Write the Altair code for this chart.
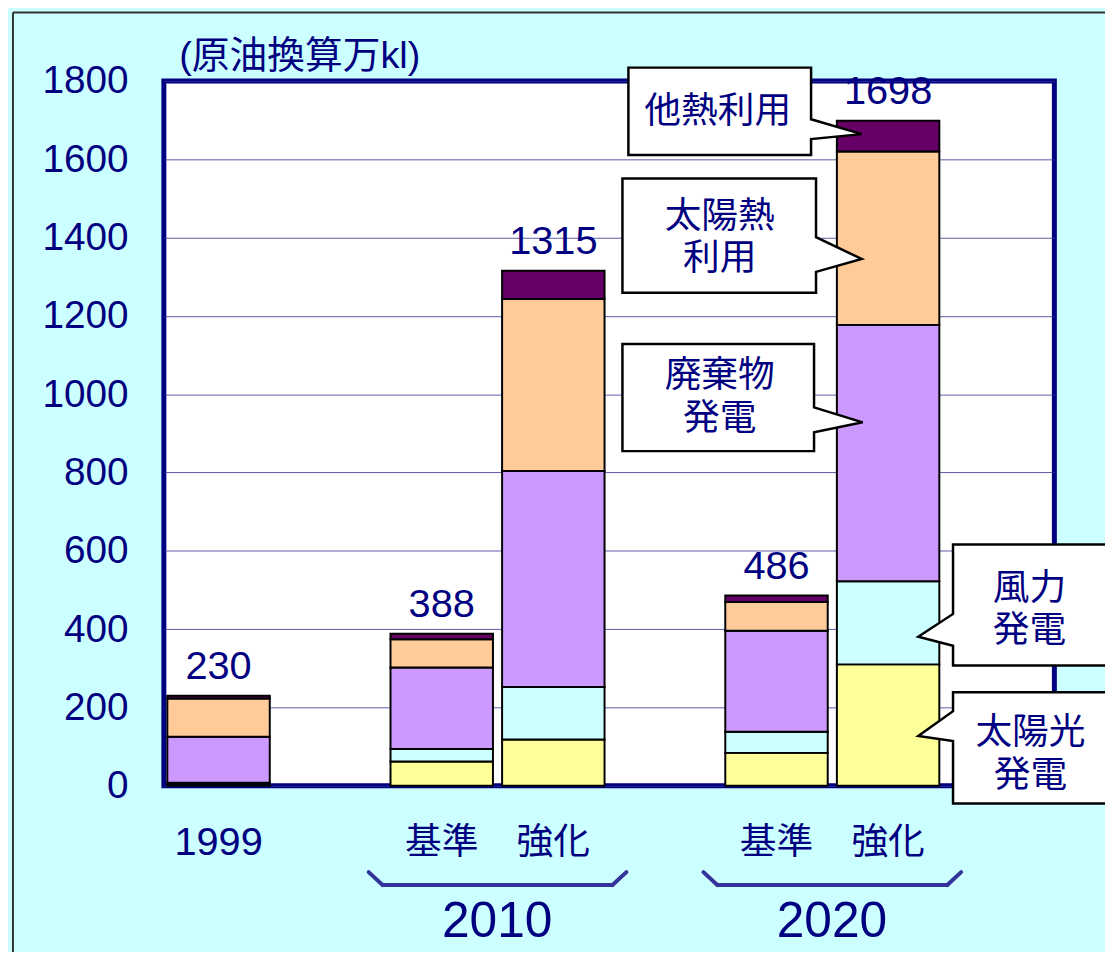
import altair as alt
import pandas as pd

# ---------------- data ----------------
categories = ["1999", "2010基準", "2010強化", "2020基準", "2020強化"]
slots = ["1999", "_gap1", "2010基準", "2010強化", "_gap2", "2020基準", "2020強化", "_gap3"]
series = ["太陽光発電", "風力発電", "廃棄物発電", "太陽熱利用", "他熱利用"]
solar_pv = [5, 62, 118, 84, 310]
wind = [3, 32, 134, 54, 212]
waste = [117, 208, 552, 258, 655]
solar_heat = [98, 72, 439, 73, 443]
other_heat = [7, 14, 72, 17, 78]
totals = [230, 388, 1315, 486, 1698]
y_ticks = [0, 200, 400, 600, 800, 1000, 1200, 1400, 1600, 1800]
groups = ["2010", "2020"]
group_first = ["2010基準", "2020基準"]
group_second = ["2010強化", "2020強化"]
callout_labels = ["太陽光\n発電", "風力\n発電", "廃棄物\n発電", "太陽熱\n利用", "他熱利用"]
colors = ["#FFFF99", "#CCFFFF", "#CC99FF", "#FFCC99", "#660066"]

NAVY = "#000080"
FONT = "Liberation Sans, Arial, 'Noto Sans CJK JP', sans-serif"
W, H = 897, 710

values = [solar_pv, wind, waste, solar_heat, other_heat]
rows = []
for ci, cat in enumerate(categories):
    for si, s in enumerate(series):
        rows.append({"cat": cat, "series": s, "idx": si, "value": values[si][ci]})
long_df = pd.DataFrame(rows)
tot_df = pd.DataFrame({"cat": categories, "total": totals})
grp_df = pd.DataFrame({"group": groups, "first": group_first, "second": group_second})

# callout anchor: midpoint of each segment of the last bar
last = categories.index("2020強化")
cum = 0
crow = []
for si, s in enumerate(series):
    v = values[si][last]
    crow.append({"cat": categories[last], "series": s, "mid": cum + v / 2, "label": callout_labels[si]})
    cum += v
call_df = pd.DataFrame(crow)

xscale = alt.Scale(domain=slots, paddingInner=0.082, paddingOuter=0.031)
yscale = alt.Scale(domain=[0, 1800], nice=False)

bars = alt.Chart(long_df).mark_bar(stroke="black", strokeWidth=2).encode(
    x=alt.X("cat:N", scale=xscale, sort=slots, title=None,
            axis=alt.Axis(labelExpr="datum.value == '1999' ? '1999' : indexof(datum.value, '基準') >= 0 ? '基準' : indexof(datum.value, '強化') >= 0 ? '強化' : ''",
                          labelAngle=0, ticks=False, tickSize=0, domain=False, grid=False,
                          labelFontSize={"condition": {"test": "datum.value == '1999'", "value": 40}, "value": 37},
                          labelColor=NAVY, labelFont=FONT,
                          labelBaseline="middle", labelPadding=57)),
    y=alt.Y("value:Q", stack="zero", scale=yscale, title="(原油換算万kl)",
            axis=alt.Axis(values=y_ticks, format="d", ticks=False, tickSize=0, domain=False, grid=True,
                          gridColor="#333399", gridWidth=1, gridOpacity=0.8,
                          labelFontSize=39, labelColor=NAVY, labelFont=FONT, labelPadding=36,
                          titleAngle=0, titleX=15, titleY=-25, titleAlign="left",
                          titleBaseline="middle", titleFontSize=38, titleFontWeight="normal",
                          titleColor=NAVY, titleFont=FONT)),
    color=alt.Color("series:N", scale=alt.Scale(domain=series, range=colors), legend=None),
    order=alt.Order("idx:Q"),
)

labels = alt.Chart(tot_df).mark_text(baseline="alphabetic", dy=-17, fontSize=40, color=NAVY, font=FONT).encode(
    x=alt.X("cat:N", scale=xscale), y=alt.Y("total:Q", scale=yscale), text="total:Q")

# callouts (box + pointer as one path, origin at band start of the last bar / segment midpoint)
def left_path(L, R, T, B, p1, p2, tx, ty):
    return f"M{L},{T}L{R},{T}L{R},{p1}L{tx},{ty}L{R},{p2}L{R},{B}L{L},{B}Z"

def right_path(L, R, T, B, p1, p2, tx, ty):
    return f"M{L},{T}L{R},{T}L{R},{B}L{L},{B}L{L},{p2}L{tx},{ty}L{L},{p1}Z"

LH = 43
callout_specs = {
    "他熱利用": (left_path(-210, -26, -69, 19, -17, 3, 25, -2), -120, -24),
    "太陽熱利用": (left_path(-216, -21, -60, 55, -1, 34, 25, 21), -118, 0 - LH / 2),
    "廃棄物発電": (left_path(-216, -23, -110, -2, -46, -21, 26, -31), -118, -56 - LH / 2),
    "風力発電": (right_path(117, 300, -79, 43, -9, 23, 82, 14), 194, -13 - LH / 2),
    "太陽光発電": (right_path(117, 300, -33, 79, -14, 16, 82, 11), 195, 30 - LH / 2),
}

call_layers = []
for s, (path, tdx, tdy) in callout_specs.items():
    base = alt.Chart(call_df).transform_filter(alt.datum.series == s)
    box = base.mark_point(shape=path, size=4, filled=True, fill="white", stroke="black",
                          strokeWidth=2.5, opacity=1).encode(
        x=alt.X("cat:N", bandPosition=0, scale=xscale), y=alt.Y("mid:Q", scale=yscale))
    txt = base.mark_text(dx=tdx, dy=tdy, fontSize=37, lineHeight=LH, lineBreak="\n",
                         color=NAVY, font=FONT, baseline="middle", align="center").encode(
        x=alt.X("cat:N", bandPosition=0, scale=xscale), y=alt.Y("mid:Q", scale=yscale), text="label:N")
    call_layers += [box, txt]

# group labels and braces
BR = "#333399"
gbase = alt.Chart(grp_df)
year_txt = gbase.mark_text(dx=-5, fontSize=50, color=NAVY, font=FONT, baseline="middle").encode(
    x=alt.X("second:N", bandPosition=0, scale=xscale), y=alt.value(847), text="group:N")
brace_mid = gbase.mark_rule(color=BR, strokeWidth=4, strokeCap="round", xOffset=-8, x2Offset=8).encode(
    x=alt.X("first:N", bandPosition=0, scale=xscale), x2=alt.X2("second:N", bandPosition=1), y=alt.value(810))
brace_l = gbase.mark_rule(color=BR, strokeWidth=4, strokeCap="round", xOffset=-22, x2Offset=-8).encode(
    x=alt.X("first:N", bandPosition=0, scale=xscale), x2=alt.X2("first:N", bandPosition=0),
    y=alt.value(797), y2=alt.value(810))
brace_r = gbase.mark_rule(color=BR, strokeWidth=4, strokeCap="round", xOffset=8, x2Offset=22).encode(
    x=alt.X("second:N", bandPosition=1, scale=xscale), x2=alt.X2("second:N", bandPosition=1),
    y=alt.value(810), y2=alt.value(797))

frame_l = alt.Chart(grp_df.head(1)).mark_rule(color="#333333", strokeWidth=2).encode(
    x=alt.value(-152), y=alt.value(-69), y2=alt.value(H + 200))
frame_t = alt.Chart(grp_df.head(1)).mark_rule(color="#333333", strokeWidth=2).encode(
    x=alt.value(-152), x2=alt.value(W + 200), y=alt.value(-69))

chart = alt.layer(bars, labels, *call_layers, year_txt, brace_mid, brace_l, brace_r, frame_l, frame_t).properties(
    width=W, height=H,
    autosize=alt.AutoSizeParams(type="none"),
    padding={"left": 157, "top": 70, "right": 51, "bottom": 164},
    background="#CCFFFF",
).configure_view(stroke=NAVY, strokeWidth=5, fill="white")

chart.save("out.html", embed_options={"renderer": "svg", "actions": False})
